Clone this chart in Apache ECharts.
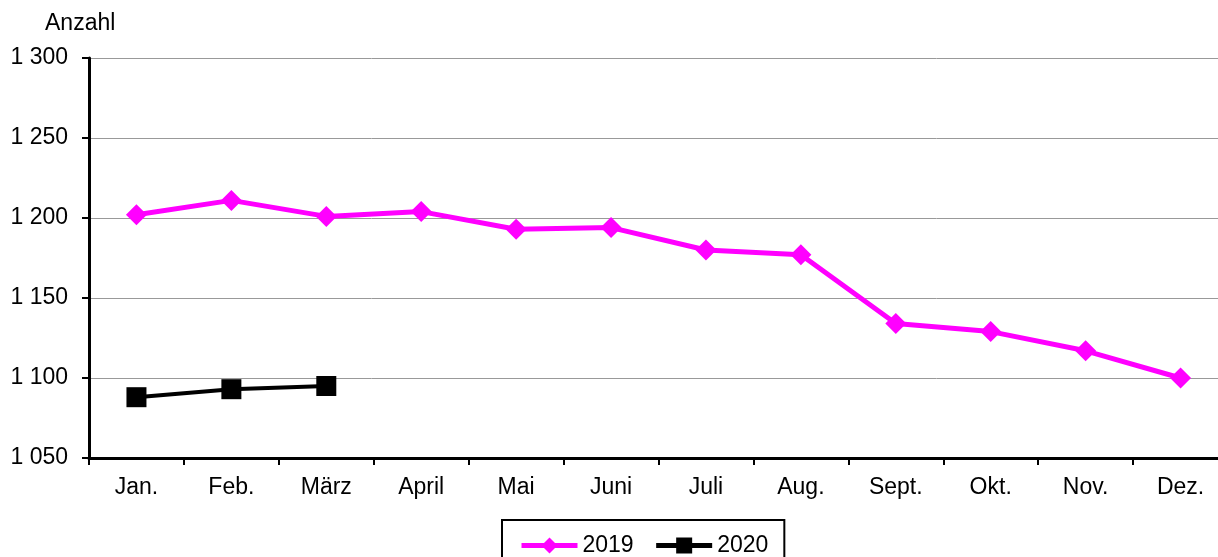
<!DOCTYPE html>
<html>
<head>
<meta charset="utf-8">
<script src="https://cdn.jsdelivr.net/npm/echarts@6/dist/echarts.min.js"></script>
<style>
  html, body { margin: 0; padding: 0; background: #fff; }
  #mycharts { width: 1218px; height: 557px; }
</style>
</head>
<body>
<div id="mycharts"></div>
<script>
const months = ['Jan.', 'Feb.', 'März', 'April', 'Mai', 'Juni', 'Juli', 'Aug.', 'Sept.', 'Okt.', 'Nov.', 'Dez.'];
const values2019 = [1202, 1211, 1201, 1204, 1193, 1194, 1180, 1177, 1134, 1129, 1117, 1100];
const values2020 = [1088, 1093, 1095];
const yMin = 1050;
const yMax = 1300;
const yStep = 50;

const font = '"Liberation Sans", Arial, sans-serif';

// Tausendertrennzeichen als Leerzeichen
function formatNumber(v) {
    return String(v).replace(/\B(?=(\d{3})+(?!\d))/g, ' ');
}

const chart = echarts.init(document.getElementById('mycharts'));
chart.setOption({
    animation: false,
    backgroundColor: '#fff',
    textStyle: { fontFamily: font },
    title: {
        text: 'Anzahl',
        left: 45,
        top: 12,
        padding: 0,
        textStyle: { fontFamily: font, fontSize: 23, fontWeight: 'normal', color: '#000' }
    },
    grid: {
        left: 89,
        top: 58,
        width: 1139,
        height: 400,
        containLabel: false,
        outerBoundsMode: 'none'
    },
    legend: {
        left: 502,
        top: 520,
        padding: [14, 16, 14, 17],
        borderColor: '#000',
        borderWidth: 2,
        itemWidth: 56,
        itemHeight: 20,
        itemGap: 20,
        textStyle: { fontFamily: font, fontSize: 23, color: '#000' },
        data: [
            { name: '2019', lineStyle: { width: 5 } },
            { name: '2020', lineStyle: { width: 5 } }
        ]
    },
    xAxis: {
        type: 'category',
        data: months,
        boundaryGap: true,
        axisLine: { lineStyle: { color: '#000', width: 3 } },
        axisTick: { show: true, length: 7, lineStyle: { color: '#000', width: 2 } },
        axisLabel: { color: '#000', fontSize: 23, fontFamily: font, margin: 18 },
        splitLine: { show: false }
    },
    yAxis: {
        type: 'value',
        min: yMin,
        max: yMax,
        interval: yStep,
        axisLine: { show: true, lineStyle: { color: '#000', width: 3 } },
        axisTick: { show: true, length: 7, lineStyle: { color: '#000', width: 2 } },
        axisLabel: {
            color: '#000', fontSize: 23, fontFamily: font, margin: 21,
            formatter: formatNumber
        },
        splitLine: { show: true, lineStyle: { color: '#999', width: 1 } }
    },
    series: [
        {
            name: '2019',
            type: 'line',
            data: values2019,
            symbol: 'diamond',
            symbolSize: 21,
            showAllSymbol: true,
            lineStyle: { color: '#ff00ff', width: 5 },
            itemStyle: { color: '#ff00ff' }
        },
        {
            name: '2020',
            type: 'line',
            data: values2020,
            symbol: 'rect',
            symbolSize: 20,
            lineStyle: { color: '#000', width: 4 },
            itemStyle: { color: '#000' }
        }
    ]
});
</script>
</body>
</html>
